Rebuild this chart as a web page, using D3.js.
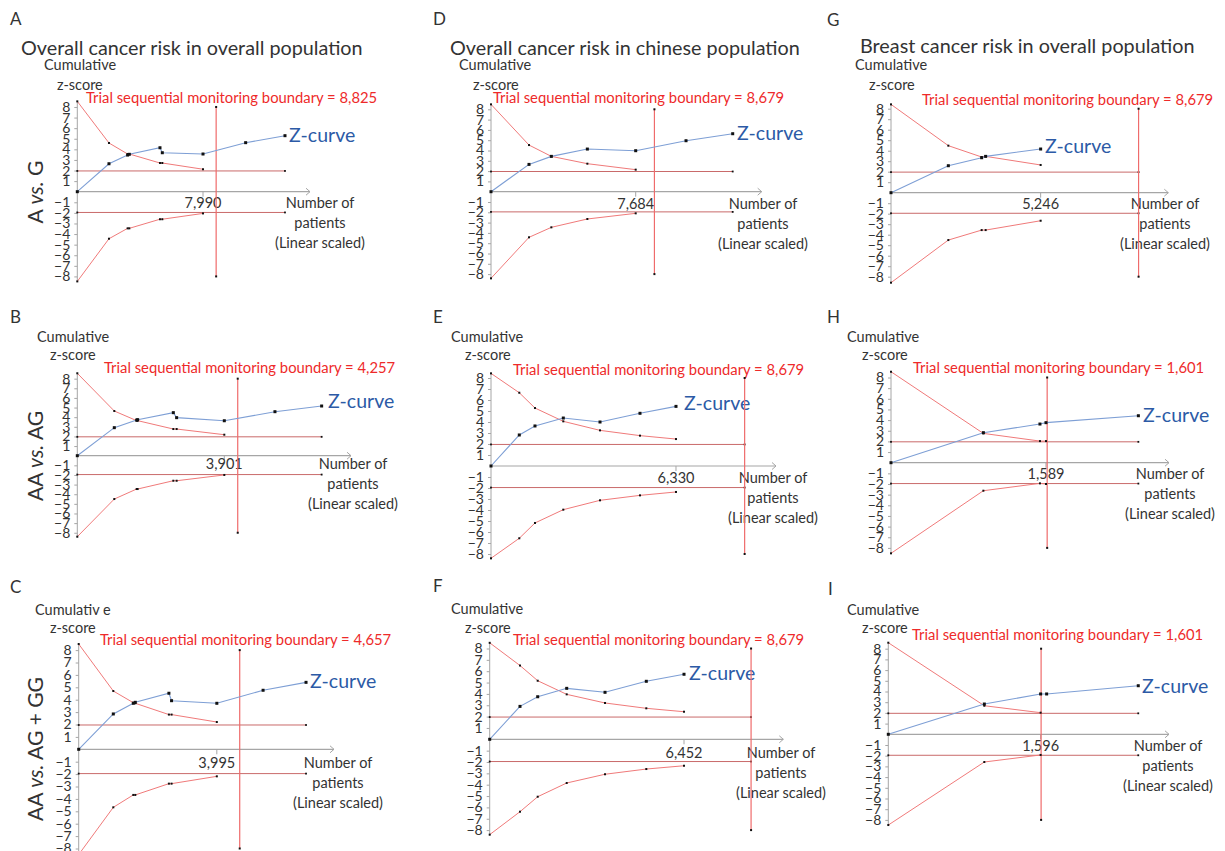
<!DOCTYPE html>
<html>
<head>
<meta charset="utf-8">
<script src="https://cdn.jsdelivr.net/npm/d3@7"></script>
<style>
  body { margin: 0; background: #fff; }
  svg text { font-family: Lato, "Open Sans", sans-serif; }
</style>
</head>
<body>
<svg id="chart" width="1225" height="851"></svg>
<script>
// panel A - A vs. G, overall cancer risk, overall population
const aBoundX = [0, 2013, 3199, 3305, 5255, 5403, 7990];
const aUpper = [8.53, 4.6, 3.56, 3.56, 2.71, 2.71, 2.12];
const aLower = [-8.47, -4.44, -3.46, -3.46, -2.6, -2.6, -2.05];
const aZX = [0, 2013, 3199, 3305, 5255, 5403, 7990, 10700, 13200];
const aZ = [0, 2.64, 3.46, 3.53, 4.15, 3.68, 3.56, 4.63, 5.29];

// panel B - AA vs. AG
const bBoundX = [0, 982, 1575, 1601, 2548, 2636, 3901];
const bUpper = [8.56, 4.64, 3.64, 3.64, 2.77, 2.77, 2.18];
const bLower = [-8.41, -4.5, -3.46, -3.46, -2.6, -2.6, -2.0];
const bZX = [0, 982, 1575, 1601, 2548, 2636, 3901, 5245, 6484];
const bZ = [0, 2.91, 3.7, 3.74, 4.47, 3.95, 3.63, 4.57, 5.16];

// panel C - AA vs. AG + GG
const cBoundX = [0, 1001, 1579, 1637, 2609, 2686, 3995];
const cUpper = [8.49, 4.7, 3.76, 3.71, 2.8, 2.8, 2.2];
const cLower = [-8.49, -4.68, -3.68, -3.68, -2.77, -2.77, -2.18];
const cZX = [0, 1001, 1579, 1637, 2609, 2686, 3995, 5333, 6575];
const cZ = [0, 2.85, 3.71, 3.79, 4.52, 3.92, 3.71, 4.76, 5.4];

// panel D - chinese population, A vs. G
const dBoundX = [0, 2018, 3205, 5117, 7684];
const dUpper = [8.48, 4.53, 3.43, 2.72, 2.14];
const dLower = [-8.41, -4.43, -3.46, -2.65, -2.1];
const dZX = [0, 2018, 3205, 5117, 7684, 10357, 12836];
const dZ = [0, 2.65, 3.43, 4.14, 3.98, 4.95, 5.63];

// panel E
const eBoundX = [0, 968, 1505, 2474, 3730, 5098, 6330];
const eUpper = [8.42, 6.66, 5.27, 4.06, 3.24, 2.76, 2.45];
const eLower = [-8.39, -6.57, -5.18, -3.97, -3.12, -2.67, -2.36];
const eZX = [0, 968, 1505, 2474, 3730, 5098, 6330];
const eZ = [0, 2.82, 3.64, 4.36, 4.0, 4.79, 5.42];

// panel F
const fBoundX = [0, 1006, 1594, 2557, 3829, 5200, 6452];
const fUpper = [8.5, 6.5, 5.16, 3.96, 3.2, 2.73, 2.43];
const fLower = [-8.4, -6.38, -5.06, -3.85, -3.08, -2.62, -2.33];
const fZX = [0, 1006, 1594, 2557, 3829, 5200, 6452];
const fZ = [0, 2.9, 3.75, 4.49, 4.14, 5.11, 5.73];

// panel G - breast cancer
const gBoundX = [0, 2010, 3178, 3318, 5246];
const gUpper = [8.41, 4.48, 3.4, 3.46, 2.64];
const gLower = [-8.57, -4.51, -3.56, -3.56, -2.67];
const gZX = [0, 2010, 3178, 3318, 5246];
const gZ = [0, 2.57, 3.33, 3.46, 4.16];

// panel H
const hBoundX = [0, 947, 1527, 1589];
const hUpper = [8.54, 2.75, 2.03, 2.03];
const hLower = [-8.51, -2.63, -1.94, -2.0];
const hZX = [0, 947, 1527, 1589, 2536];
const hZ = [0, 2.82, 3.63, 3.76, 4.41];

// panel I
const iBoundX = [0, 1006, 1596];
const iUpper = [8.56, 2.67, 2.02];
const iLower = [-8.48, -2.59, -1.93];
const iZX = [0, 1006, 1596, 1659, 2619];
const iZ = [0, 2.83, 3.77, 3.77, 4.54];

const panelLetters = ["A", "B", "C", "D", "E", "F", "G", "H", "I"];
const requiredSize = [8825, 4257, 4657, 8679, 8679, 8679, 8679, 1601, 1601];
const accruedSize = [7990, 3901, 3995, 7684, 6330, 6452, 5246, 1589, 1596];
const axisMax = [14790, 7263, 7384, 14376, 9752, 9749, 9721, 2850, 2941];
const columnTitles = ["Overall cancer risk in overall population",
  "Overall cancer risk in chinese population",
  "Breast cancer risk in overall population"];
const rowModels = [["A", "G"], ["AA", "AG"], ["AA", "AG + GG"]];
const zTicks = [-8, -7, -6, -5, -4, -3, -2, -1, 1, 2, 3, 4, 5, 6, 7, 8];
const zBound = 1.96;

// layout: axis origin, axis end, zero line, px per z unit, text anchors
const layout = [
  {x0: 77.3, x1: 310, y0: 191.7, u: 10.59, lx: 10, ly: 25, cum: [44, 70], zs: [57, 90], tr: [86, 103], zc: [289, 142], nx: 320, ny: 208, cumText: "Cumulative"},
  {x0: 77.3, x1: 351, y0: 455.7, u: 9.63, lx: 10, ly: 323, cum: [37, 342], zs: [50, 360], tr: [104, 373], zc: [328, 408], nx: 353, ny: 469, cumText: "Cumulative"},
  {x0: 78.7, x1: 334, y0: 749.3, u: 12.4, lx: 10, ly: 593, cum: [35, 615], zs: [50, 633], tr: [100, 645], zc: [310, 688], nx: 338, ny: 768, cumText: "Cumulativ e"},
  {x0: 491, x1: 761.7, y0: 191.7, u: 10.3, lx: 433, ly: 25, cum: [459, 70], zs: [473, 90], tr: [493, 103], zc: [737, 140], nx: 763, ny: 209, cumText: "Cumulative"},
  {x0: 491, x1: 776, y0: 466, u: 11.0, lx: 433, ly: 323, cum: [451, 342], zs: [465, 360], tr: [513, 375], zc: [684, 410], nx: 773, ny: 483, cumText: "Cumulative"},
  {x0: 489.7, x1: 783.3, y0: 739.3, u: 11.35, lx: 433, ly: 592, cum: [451, 614], zs: [465, 633], tr: [513, 645], zc: [689, 680], nx: 781, ny: 758, cumText: "Cumulative"},
  {x0: 891, x1: 1168.3, y0: 192.7, u: 10.5, lx: 827, ly: 26, cum: [855, 70], zs: [869, 90], tr: [922, 105], zc: [1045, 153], nx: 1165, ny: 209, cumText: "Cumulative"},
  {x0: 891, x1: 1169, y0: 462.7, u: 10.65, lx: 827, ly: 323, cum: [847, 342], zs: [862, 360], tr: [913, 373], zc: [1143, 422], nx: 1170, ny: 479, cumText: "Cumulative"},
  {x0: 888.3, x1: 1169, y0: 734.3, u: 10.7, lx: 828, ly: 595, cum: [847, 615], zs: [862, 633], tr: [912, 640], zc: [1142, 693], nx: 1168, ny: 751, cumText: "Cumulative"}
];
const titlePos = [[21, 55], [450, 55], [860, 53]];
const rotPos = [[43, 192], [43, 456], [43, 749]];

const boundX = [aBoundX, bBoundX, cBoundX, dBoundX, eBoundX, fBoundX, gBoundX, hBoundX, iBoundX];
const uppers = [aUpper, bUpper, cUpper, dUpper, eUpper, fUpper, gUpper, hUpper, iUpper];
const lowers = [aLower, bLower, cLower, dLower, eLower, fLower, gLower, hLower, iLower];
const zXs = [aZX, bZX, cZX, dZX, eZX, fZX, gZX, hZX, iZX];
const zs = [aZ, bZ, cZ, dZ, eZ, fZ, gZ, hZ, iZ];

const svg = d3.select("#chart");
const textCol = "#333333";
const boundCol = "#f07a7a";
const hCol = "#c96a6a";
const risCol = "#ef6b6b";
const zCol = "#7e9fd5";
const axisCol = "#a6a6a6";
const minus = d => d < 0 ? "\u2212" + Math.abs(d) : String(d);

columnTitles.forEach((t, i) => {
  svg.append("text").attr("x", titlePos[i][0]).attr("y", titlePos[i][1])
    .attr("font-size", 19.8).attr("fill", textCol).text(t);
});

rowModels.forEach((m, i) => {
  let t = svg.append("text")
    .attr("transform", "translate(" + rotPos[i][0] + "," + rotPos[i][1] + ") rotate(-90)")
    .attr("text-anchor", "middle").attr("font-size", 21).attr("fill", textCol);
  t.append("tspan").text(m[0] + " ");
  t.append("tspan").attr("font-style", "italic").text("vs.");
  t.append("tspan").text(" " + m[1]);
});

function marker(g, px, py, s) {
  g.append("rect").attr("x", px - s / 2).attr("y", py - s / 2)
    .attr("width", s).attr("height", s).attr("fill", "#111");
}

panelLetters.forEach((letter, i) => {
  let L = layout[i];
  let g = svg.append("g").attr("class", "panel-" + letter);

  let x = d3.scaleLinear().domain([0, axisMax[i]]).range([L.x0, L.x1]);
  let y = d3.scaleLinear().domain([-8, 8]).range([L.y0 + 8 * L.u, L.y0 - 8 * L.u]);

  // texts
  g.append("text").attr("x", L.lx).attr("y", L.ly).attr("font-size", 17).attr("fill", textCol).text(letter);
  g.append("text").attr("x", L.cum[0]).attr("y", L.cum[1]).attr("font-size", 14.5).attr("fill", textCol).text(L.cumText);
  g.append("text").attr("x", L.zs[0]).attr("y", L.zs[1]).attr("font-size", 14.5).attr("fill", textCol).text("z-score");
  g.append("text").attr("x", L.tr[0]).attr("y", L.tr[1]).attr("font-size", 14.8).attr("fill", "#ee2a2a")
    .text("Trial sequential monitoring boundary = " + d3.format(",")(requiredSize[i]));
  g.append("text").attr("x", L.zc[0]).attr("y", L.zc[1]).attr("font-size", 19.5).attr("fill", "#2c5aa6").text("Z-curve");
  ["Number of", "patients", "(Linear scaled)"].forEach((s, k) => {
    g.append("text").attr("x", L.nx).attr("y", L.ny + k * 20).attr("text-anchor", "middle")
      .attr("font-size", 14.5).attr("fill", textCol).text(s);
  });

  // y axis
  let yAxis = g.append("g").attr("transform", "translate(" + L.x0 + ",0)")
    .call(d3.axisLeft(y).tickValues(zTicks).tickSize(3).tickPadding(4).tickFormat(minus));
  yAxis.select(".domain").remove();
  yAxis.selectAll(".tick line").attr("stroke", axisCol);
  yAxis.selectAll(".tick text").attr("font-size", 14).attr("fill", textCol).attr("font-family", null);
  g.append("line").attr("x1", L.x0).attr("x2", L.x0).attr("y1", y(8.5)).attr("y2", y(-8.5))
    .attr("stroke", axisCol).attr("stroke-width", 1);

  // x axis with arrow
  g.append("line").attr("x1", L.x0).attr("x2", L.x1).attr("y1", y(0)).attr("y2", y(0))
    .attr("stroke", axisCol).attr("stroke-width", 1.2);
  g.append("path").attr("d", "M" + (L.x1 - 4) + "," + (y(0) - 3.5) + "L" + L.x1 + "," + y(0) + "L" + (L.x1 - 4) + "," + (y(0) + 3.5))
    .attr("fill", "none").attr("stroke", axisCol);

  // accrued information tick and label
  g.append("line").attr("x1", x(accruedSize[i])).attr("x2", x(accruedSize[i]))
    .attr("y1", y(0)).attr("y2", y(0) + 5).attr("stroke", axisCol);
  g.append("text").attr("x", x(accruedSize[i])).attr("y", L.ny).attr("text-anchor", "middle")
    .attr("font-size", 14.5).attr("fill", textCol).text(d3.format(",")(accruedSize[i]));

  // conventional boundaries +/-1.96
  let zx = zXs[i];
  let hEnd = Math.max(zx[zx.length - 1], requiredSize[i]);
  [zBound, -zBound].forEach(v => {
    g.append("line").attr("x1", x(0)).attr("x2", x(hEnd)).attr("y1", y(v)).attr("y2", y(v))
      .attr("stroke", hCol).attr("stroke-width", 1);
    marker(g, x(0), y(v), 1.8);
    marker(g, x(hEnd), y(v), 1.8);
  });

  // required information size
  g.append("line").attr("x1", x(requiredSize[i])).attr("x2", x(requiredSize[i]))
    .attr("y1", y(8)).attr("y2", y(-8)).attr("stroke", risCol).attr("stroke-width", 1.2);
  marker(g, x(requiredSize[i]), y(8), 2);
  marker(g, x(requiredSize[i]), y(-8), 2);

  // monitoring boundaries
  let bx = boundX[i];
  let line = d3.line();
  [uppers[i], lowers[i]].forEach(arr => {
    let pts = arr.map((v, k) => [x(bx[k]), y(v)]);
    g.append("path").attr("d", line(pts)).attr("fill", "none")
      .attr("stroke", boundCol).attr("stroke-width", 1);
    pts.forEach(p => marker(g, p[0], p[1], 2));
  });

  // z-curve
  let zpts = zs[i].map((v, k) => [x(zx[k]), y(v)]);
  g.append("path").attr("d", line(zpts)).attr("fill", "none")
    .attr("stroke", zCol).attr("stroke-width", 1.1);
  zpts.forEach(p => marker(g, p[0], p[1], 3));
});
</script>
</body>
</html>
